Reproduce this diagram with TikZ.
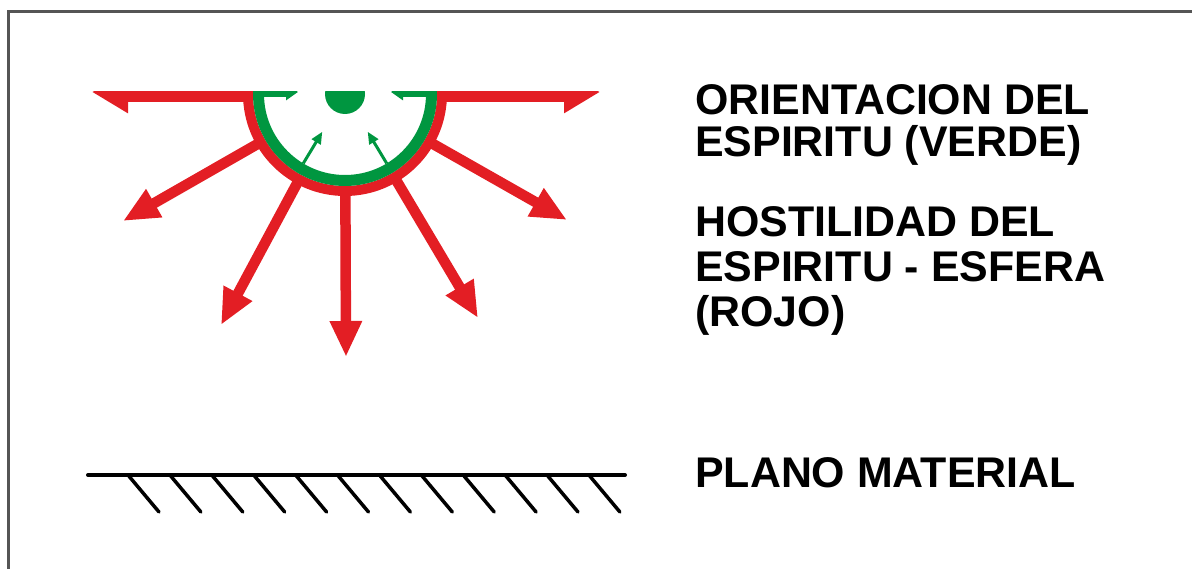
\documentclass[tikz,border=0pt]{standalone}
\usepackage{fontspec}
\setmainfont{Liberation Sans}
\usetikzlibrary{arrows.meta,calc,positioning}
\definecolor{esRed}{RGB}{227,30,36}
\definecolor{esGreen}{RGB}{0,150,64}
\definecolor{esFrame}{RGB}{85,85,85}
\tikzset{
    esLabel/.style={
        anchor=base west,
        inner sep=0pt,
        align=left,
        font={\bfseries\fontsize{42.9pt}{42pt}\selectfont}
    },
    % Rays
    esRay/.style={draw=esRed, line width=10.5pt, -{Triangle[length=36pt,width=30pt]}},
    esRayFlat/.style={draw=esRed, line width=20pt, -{Triangle[length=36pt,width=40pt]}},
    esSight/.style={draw=esGreen, line width=3pt, -{Triangle[length=12pt,width=10pt]}},
    esSightFlat/.style={draw=esGreen, line width=10pt, -{Triangle[length=12pt,width=16pt]}},
    % Ground
    esGround/.style={line width=4pt, line cap=round}
}

\begin{document}
\begin{tikzpicture}[x=1pt, y=-1pt]
    \useasboundingbox (0,0) rectangle (1192,569);
    \draw[esFrame, line width=3pt] (8,569) -- (8,12) -- (1192,12);

    \coordinate (c) at (345,94);
    \begin{scope}
        \clip (0,92) rectangle (1192,569);
        \foreach \name/\px/\py in {farL/123/221, lowL/221/325, down/346/357, lowR/478/318, farR/567/220} {
            \coordinate (\name) at (\px,\py);
            \draw[esRay] ($(c)!96pt!(\name)$) -- (\name);
        }
        \coordinate (hL0) at (250,92);
        \coordinate (hL) at (92,92);
        \coordinate (hR0) at (440,92);
        \coordinate (hR) at (600,92);
        \draw[esRayFlat] (hL0) -- (hL);
        \draw[esRayFlat] (hR0) -- (hR);
        \draw[esRed, line width=10pt] (c) circle[radius=97];
        \draw[esGreen, line width=11pt] (c) circle[radius=86.5];
        \fill[esGreen] (c) circle[radius=20];
        \foreach \name/\ang in {sightL/121, sightR/59} {
            \coordinate (\name) at ($(c)+(\ang:44)$);
            \draw[esSight] ($(c)+(\ang:81)$) -- (\name);
        }
        \coordinate (gL0) at (262,92);
        \coordinate (gL) at (298,92);
        \coordinate (gR0) at (426,92);
        \coordinate (gR) at (391,92);
        \draw[esSightFlat] (gL0) -- (gL);
        \draw[esSightFlat] (gR0) -- (gR);
    \end{scope}

    \coordinate (ground0) at (88,475);
    \coordinate (ground1) at (625,475);
    \draw[esGround] (ground0) -- (ground1);
    \foreach \i in {0,...,11}
        \draw[esGround, line width=3.5pt] ($(128,475)+(\i*41.9,0)$) -- ++(31,37);

    \node[esLabel] (verde) at (695,156.7) {ORIENTACION DEL\\ESPIRITU (VERDE)};
    \node[esLabel, font={\bfseries\fontsize{42.9pt}{45pt}\selectfont}] (rojo) at (695,326.7) {HOSTILIDAD DEL\\ESPIRITU - ESFERA\\(ROJO)};
    \node[esLabel] (plano) at (695,487) {PLANO MATERIAL};
\end{tikzpicture}
\end{document}
